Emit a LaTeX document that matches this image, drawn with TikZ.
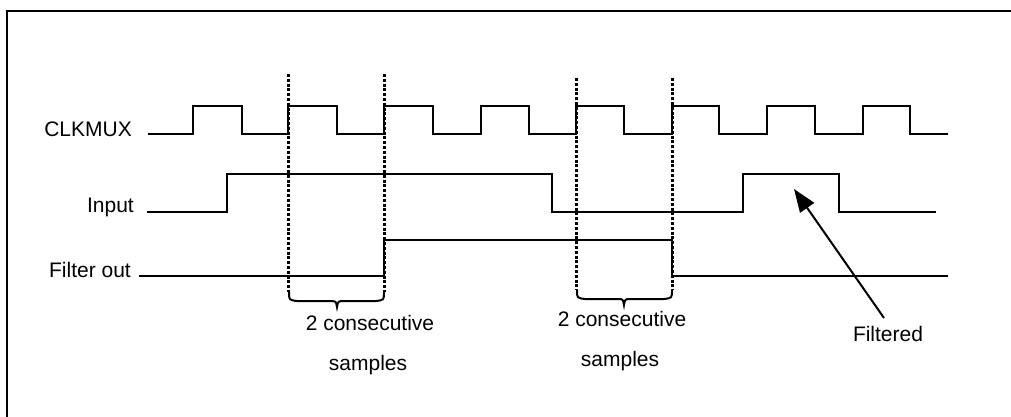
\documentclass[tikz,border=0pt]{standalone}
\usepackage{fontspec}
\setmainfont{Liberation Sans}
\usetikzlibrary{arrows.meta}
\begin{document}
\begin{tikzpicture}[x=1pt,y=-1pt,
  wave/.style={line width=2.2pt,line join=miter},
  marker/.style={line width=3pt,dash pattern=on 3pt off 1.8pt},
  bracepath/.style={line width=2pt},
  lbl/.style={font=\fontsize{21}{25}\selectfont,inner sep=0pt},
  frame/.style={line width=2.6pt}]
\useasboundingbox (0,0) rectangle (1011,416);
% frame (only top and left edges visible)
\draw[frame] (7,1000) -- (7,11) -- (1100,11);
% labels
\node[lbl,anchor=base east] (clk) at (132,136) {CLKMUX};
\node[lbl,anchor=base east] (in) at (134,212) {Input};
\node[lbl,anchor=base east] (fo) at (131,277) {Filter out};
% CLKMUX
\draw[wave] (148,134) -- (193,134) -- (193,106) -- (242,106) -- (242,134)
  -- (288,134) -- (288,106) -- (337,106) -- (337,134)
  -- (384,134) -- (384,106) -- (433,106) -- (433,134)
  -- (481,134) -- (481,106) -- (529,106) -- (529,134)
  -- (576,134) -- (576,106) -- (624,106) -- (624,134)
  -- (672,134) -- (672,106) -- (719,106) -- (719,134)
  -- (767,134) -- (767,106) -- (815,106) -- (815,134)
  -- (863,134) -- (863,106) -- (910,106) -- (910,134) -- (948,134);
% Input
\draw[wave] (147,212) -- (227,212) -- (227,174) -- (552,174) -- (552,212)
  -- (743,212) -- (743,174) -- (839,174) -- (839,212) -- (936,212);
% Filter out
\draw[wave] (139,276) -- (384,276) -- (384,240) -- (672,240) -- (672,276) -- (948,276);
% sample markers
\draw[marker] (288,74) -- (288,292);
\draw[marker] (384,74) -- (384,292);
\draw[marker] (576,78) -- (576,290);
\draw[marker] (672,78) -- (672,290);
% braces
\draw[bracepath] (289,292) .. controls (289,300) .. (297,301) -- (329,301)
  .. controls (336,301) .. (337,307) .. controls (338,301) .. (345,301) -- (376,301)
  .. controls (384,300) .. (384,292);
\draw[bracepath] (577,290) .. controls (577,298) .. (585,299) -- (617,299)
  .. controls (623,299) .. (624,305) .. controls (625,299) .. (631,299) -- (664,299)
  .. controls (672,298) .. (672,290);
% brace texts
\node[lbl,anchor=base] (c1) at (370,330) {2 consecutive};
\node[lbl,anchor=base] (s1) at (368,370) {samples};
\node[lbl,anchor=base] (c2) at (622,326) {2 consecutive};
\node[lbl,anchor=base] (s2) at (620,366) {samples};
% Filtered
\node[lbl,anchor=base] (filt) at (888,341) {Filtered};
\coordinate (tip) at (794,189);
\coordinate (tail) at (884,318);
\draw[line width=2pt,-{Triangle[length=23pt,width=17pt]}] (tail) -- (tip);
\end{tikzpicture}
\end{document}
